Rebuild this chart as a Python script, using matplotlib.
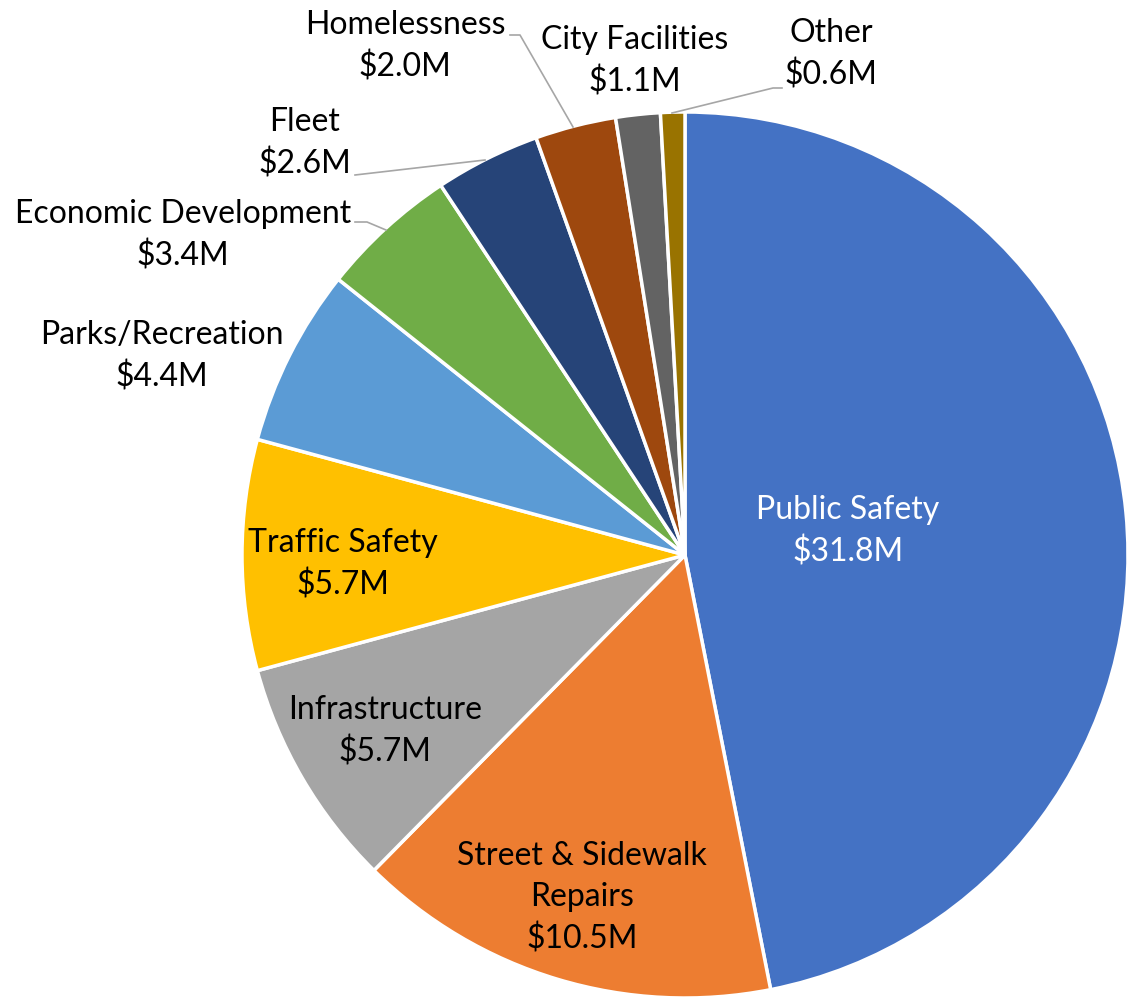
import matplotlib.pyplot as plt

plt.switch_backend("Agg")
plt.rcParams["font.family"] = ["Lato", "DejaVu Sans"]

# data
categories = ["Public Safety", "Street & Sidewalk\nRepairs", "Infrastructure",
              "Traffic Safety", "Parks/Recreation", "Economic Development",
              "Fleet", "Homelessness", "City Facilities", "Other"]
values = [31.8, 10.5, 5.7, 5.7, 4.4, 3.4, 2.6, 2.0, 1.1, 0.6]
colors = ["#4472C4", "#ED7D31", "#A5A5A5", "#FFC000", "#5B9BD5",
          "#70AD47", "#264478", "#9E480E", "#636363", "#997300"]

W, H = 1128, 997
CX, CY, R = 685, 555, 443


def px(x, y):
    # pixel (from top-left) -> data coords, pie radius = 1
    return (x - CX) / R, (CY - y) / R


# label centres in pixels, text colour
label_pos = [(848, 531), (582, 898), (385, 731), (343, 564), (162, 356),
             (183, 235), (305, 143), (405, 46), (635, 61), (831, 54)]
label_col = ["white"] + ["black"] * 9

# leader lines in pixels
leaders = [
    [(355, 222), (367, 222), (386, 230)],
    [(355, 175), (485, 160)],
    [(510, 35), (520, 35), (573, 127)],
    [(782, 88), (773, 88), (672, 113)],
]

fig = plt.figure(figsize=(W / 100, H / 100), dpi=100)
ax = fig.add_axes([(CX - R) / W, (H - CY - R) / H, 2 * R / W, 2 * R / H])
ax.pie(values, colors=colors, startangle=90, counterclock=False, radius=1,
       wedgeprops=dict(edgecolor="white", linewidth=2.5))
ax.set_xlim(-1, 1)
ax.set_ylim(-1, 1)
ax.set_aspect("equal")
ax.axis("off")

for name, val, (lx, ly), c in zip(categories, values, label_pos, label_col):
    x, y = px(lx, ly)
    ax.text(x, y, f"{name}\n${val:.1f}M", ha="center", va="center",
            fontsize=23, color=c, linespacing=1.45, clip_on=False)

for pts in leaders:
    xs, ys = zip(*[px(a, b) for a, b in pts])
    ax.plot(xs, ys, color="#A6A6A6", lw=1.2, clip_on=False)

fig.savefig("out.png", dpi=100)
